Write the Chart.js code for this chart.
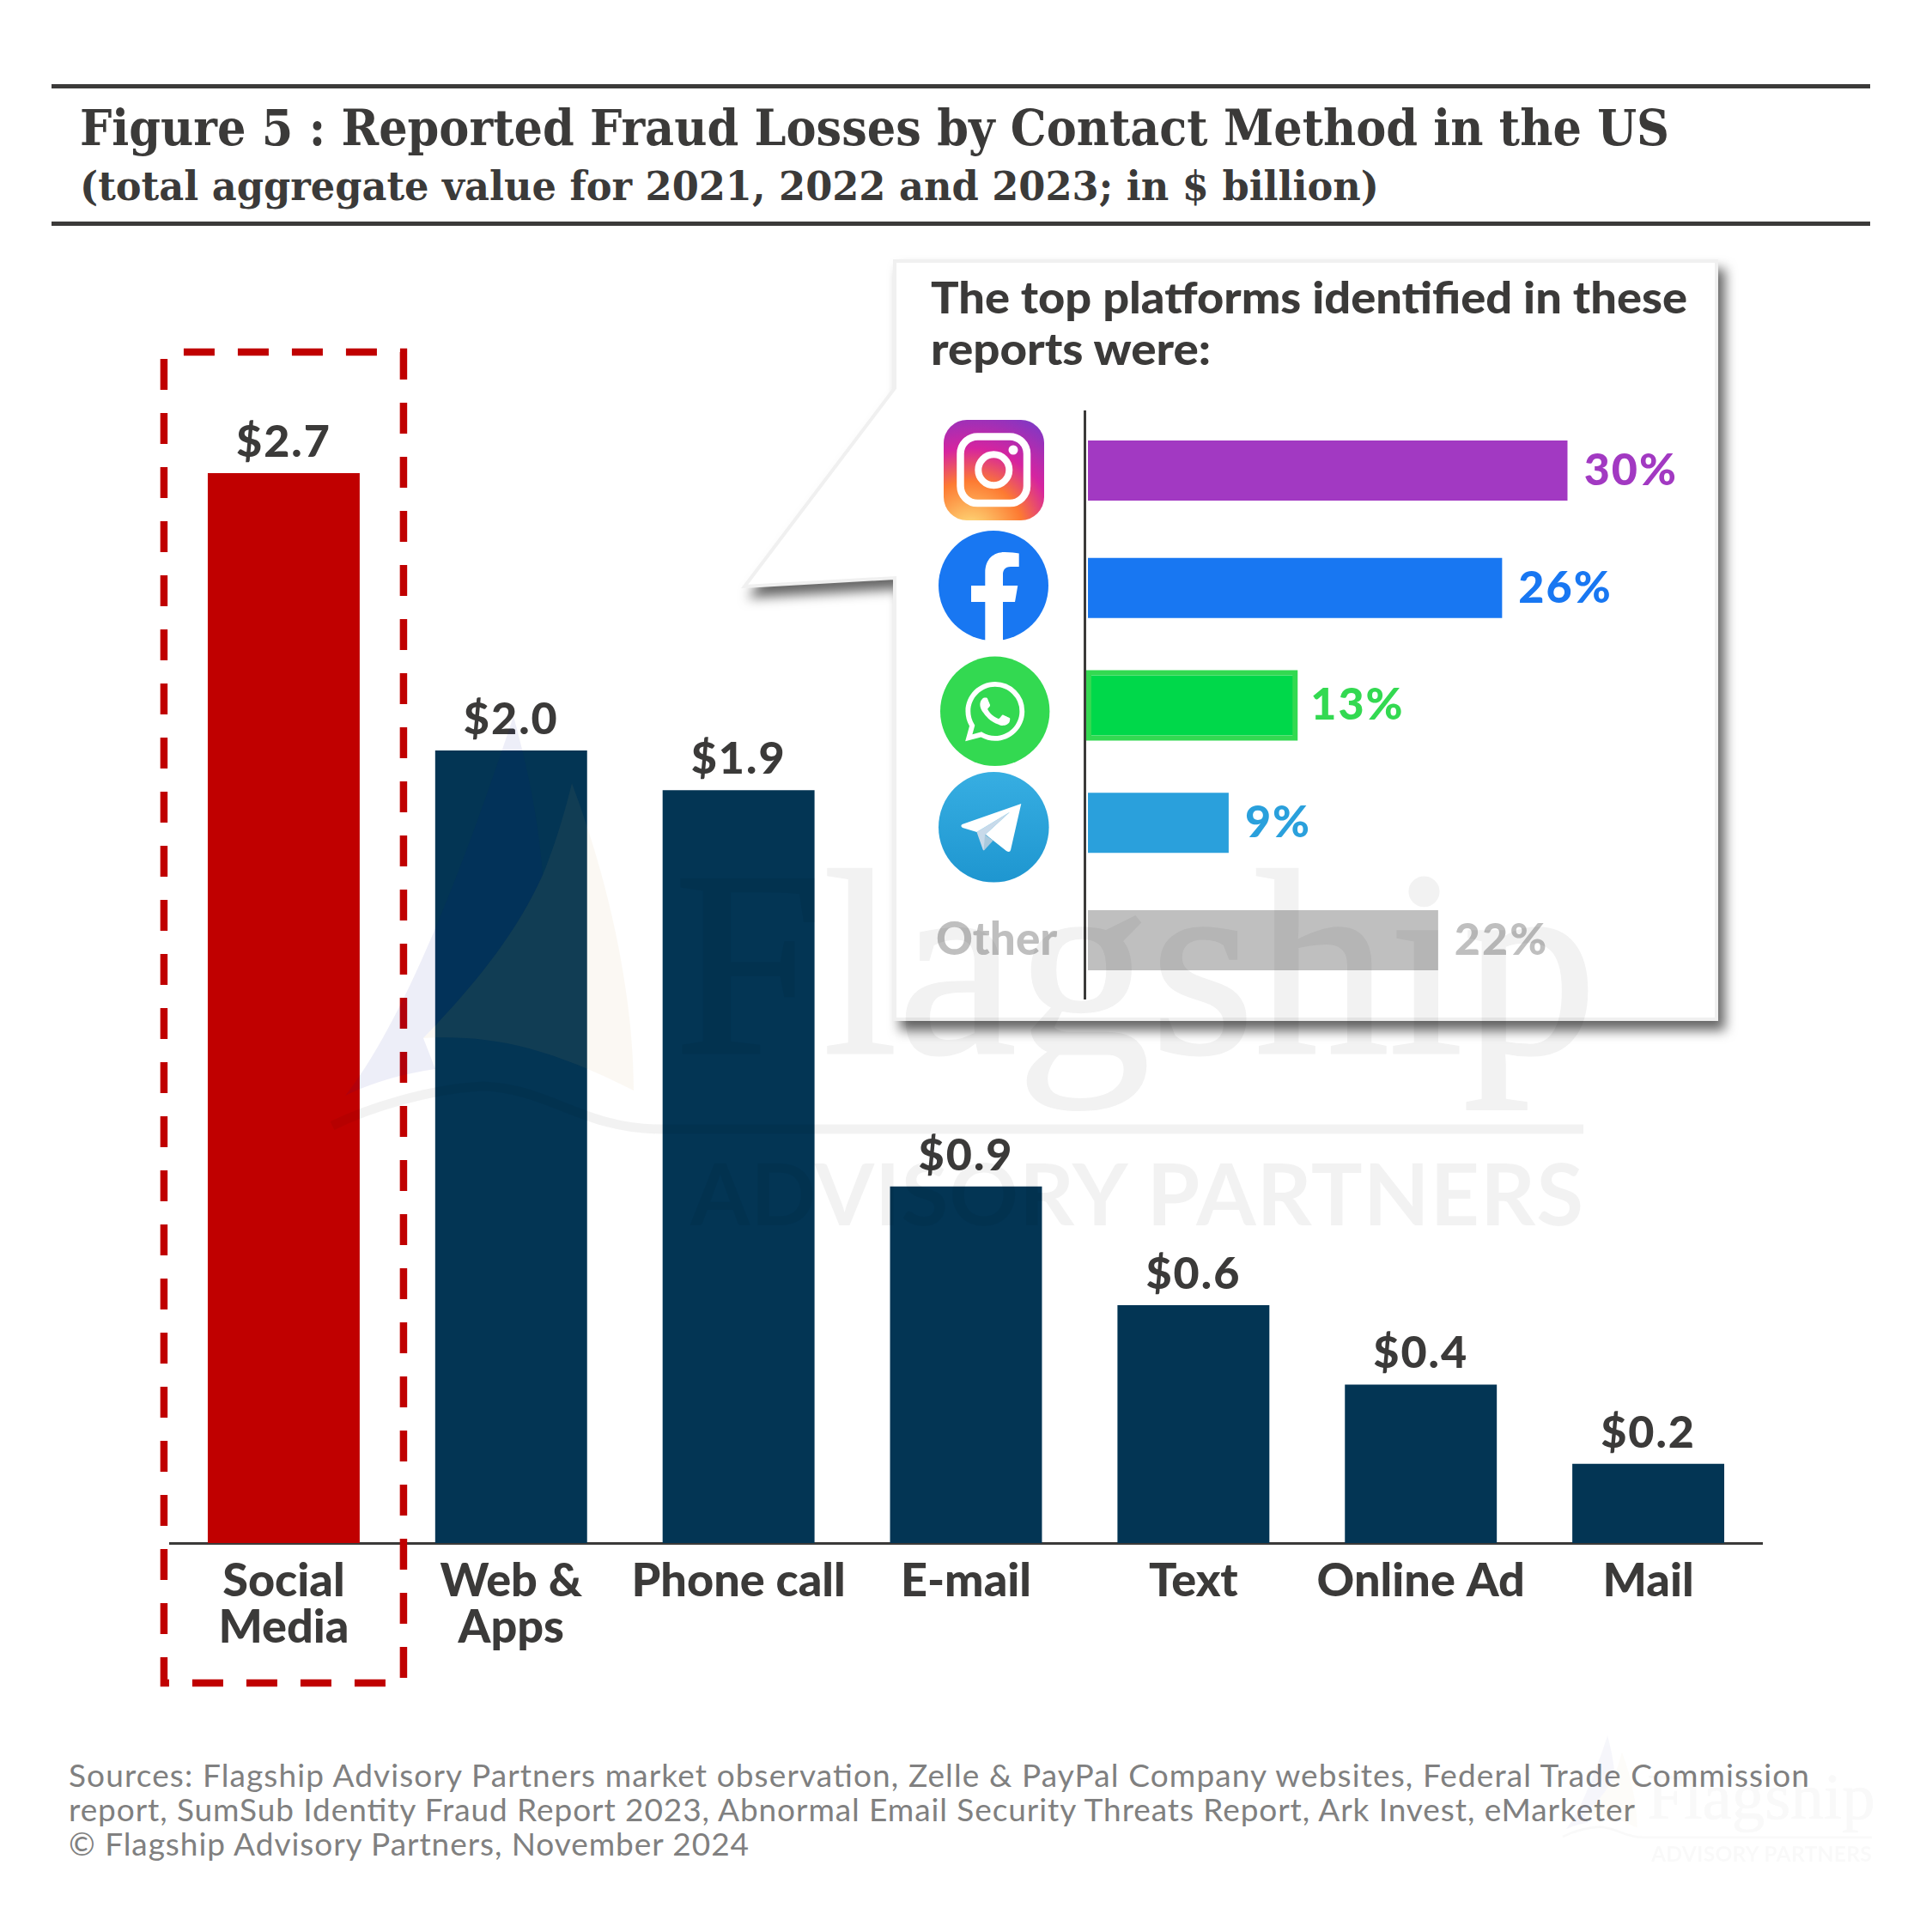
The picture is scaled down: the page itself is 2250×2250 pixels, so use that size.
<!DOCTYPE html>
<html>
<head>
<meta charset="utf-8">
<title>Reported Fraud Losses by Contact Method</title>
<script src="https://cdn.jsdelivr.net/npm/chart.js@4"></script>
<style>
    html, body { margin: 0; background: #fff; }
    #page { position: relative; width: 2250px; height: 2250px; overflow: hidden; }
    #page canvas, #page svg { position: absolute; left: 0; top: 0; }
    .head { font-family: "DejaVu Serif", serif; font-weight: 700; fill: #3b3a39; }
    .sans { font-family: Lato, sans-serif; }
    .foot { font-family: Lato, sans-serif; font-size: 37px; fill: #808080; }
</style>
</head>
<body>
<div id="page">
    <svg width="2250" height="2250" id="frame">
        <rect x="60" y="98" width="2118" height="5" fill="#3b3a39"/>
        <rect x="60" y="258" width="2118" height="5" fill="#3b3a39"/>
        <text class="head" x="93" y="169" font-size="57" textLength="1851" lengthAdjust="spacingAndGlyphs">Figure 5 : Reported Fraud Losses by Contact Method in the US</text>
        <text class="head" x="93" y="233" font-size="46" textLength="1513" lengthAdjust="spacingAndGlyphs">(total aggregate value for 2021, 2022 and 2023; in $ billion)</text>
        <text class="foot" x="80" y="2081" textLength="2027">Sources: Flagship Advisory Partners market observation, Zelle &amp; PayPal Company websites, Federal Trade Commission</text>
        <text class="foot" x="80" y="2121" textLength="1824">report, SumSub Identity Fraud Report 2023, Abnormal Email Security Threats Report, Ark Invest, eMarketer</text>
        <text class="foot" x="80" y="2161" textLength="792">© Flagship Advisory Partners, November 2024</text>
    </svg>
    <canvas id="lossChart" width="2250" height="2250"></canvas>
    <svg width="2250" height="2250" id="callout" style="overflow:visible">
        <path d="M1042 304 H1999 V1187 H1042 V673 L867 683 L1042 452 Z" fill="#fff" stroke="#f0f0f0" stroke-width="4"
              style="filter: drop-shadow(8px 11px 7px rgba(0,0,0,.6))"/>
    </svg>
    <canvas id="platformChart" width="2250" height="2250"></canvas>
    <svg width="2250" height="2250" id="icons">
        <defs>
            <radialGradient id="igGrad" gradientUnits="userSpaceOnUse" cx="1130" cy="622" r="172">
                <stop offset="0" stop-color="#fdf497"/>
                <stop offset="0.12" stop-color="#fdc468"/>
                <stop offset="0.36" stop-color="#fd7a32"/>
                <stop offset="0.58" stop-color="#d6249f"/>
                <stop offset="0.84" stop-color="#8a35c0"/>
                <stop offset="1" stop-color="#4f5fd0"/>
            </radialGradient>
            <linearGradient id="tgGrad" x1="0" y1="0" x2="0" y2="1">
                <stop offset="0" stop-color="#37aee2"/>
                <stop offset="1" stop-color="#1e96d0"/>
            </linearGradient>
        </defs>
        <rect x="1099" y="489" width="117" height="117" rx="27" fill="url(#igGrad)"/>
        <rect x="1118.5" y="508.5" width="77.5" height="77.5" rx="20" fill="none" stroke="#fff" stroke-width="8.5"/>
        <circle cx="1157.3" cy="547.3" r="18" fill="none" stroke="#fff" stroke-width="8"/>
        <circle cx="1180" cy="524" r="5.5" fill="#fff"/>

        <circle cx="1157" cy="682" r="64" fill="#1877f2"/>
        <path fill="#fff" d="M1147.3 746 V701 H1131 V682 H1147.3 V667 C1147.3 651 1157 643 1170 643 C1177 643 1183 644 1186.7 644.5 V660 H1177 C1170 660 1168 664.5 1168 669 V682 H1185.3 L1182 701 H1168 V746 Z"/>

        <circle cx="1158.7" cy="828.3" r="63.7" fill="#33d951"/>
        <path fill="#fff" transform="translate(1124,794) scale(2.89)" d="M17.472 14.382c-.297-.149-1.758-.867-2.03-.967-.273-.099-.471-.148-.67.15-.197.297-.767.966-.94 1.164-.173.199-.347.223-.644.075-.297-.15-1.255-.463-2.39-1.475-.883-.788-1.48-1.761-1.653-2.059-.173-.297-.018-.458.13-.606.134-.133.298-.347.446-.52.149-.174.198-.298.298-.497.099-.198.05-.371-.025-.52-.075-.149-.669-1.612-.916-2.207-.242-.579-.487-.5-.669-.51-.173-.008-.371-.01-.57-.01-.198 0-.52.074-.792.372-.272.297-1.04 1.016-1.04 2.479 0 1.462 1.065 2.875 1.213 3.074.149.198 2.096 3.2 5.077 4.487.709.306 1.262.489 1.694.625.712.227 1.36.195 1.871.118.571-.085 1.758-.719 2.006-1.413.248-.694.248-1.289.173-1.413-.074-.124-.272-.198-.57-.347m-5.421 7.403h-.004a9.87 9.87 0 01-5.031-1.378l-.361-.214-3.741.982.998-3.648-.235-.374a9.86 9.86 0 01-1.51-5.26c.001-5.45 4.436-9.884 9.888-9.884 2.64 0 5.122 1.03 6.988 2.898a9.825 9.825 0 012.893 6.994c-.003 5.45-4.437 9.884-9.885 9.884m8.413-18.297A11.815 11.815 0 0012.05 0C5.495 0 .16 5.335.157 11.892c0 2.096.547 4.142 1.588 5.945L.057 24l6.305-1.654a11.882 11.882 0 005.683 1.448h.005c6.554 0 11.89-5.335 11.893-11.893a11.821 11.821 0 00-3.48-8.413z"/>

        <circle cx="1157.3" cy="963.3" r="64.3" fill="url(#tgGrad)"/>
        <path fill="#c8daea" d="M1137.5 969 L1176 945.7 L1147.7 971.7 L1146.5 989 Q1145.5 991.5 1144.5 989 Z"/>
        <path fill="#a9c9dd" d="M1145.7 990.7 L1147 972 L1156.5 979 Z"/>
        <path fill="#fff" d="M1189.3 936 L1120.5 960 Q1118 962 1121 964 L1137.5 969 L1176 945.7 L1147.7 971.7 L1172 991 Q1176 993.5 1177 990 Z"/>

        <text class="sans" x="1084" y="365" font-size="52" font-weight="900" fill="#3b3a39" textLength="881" lengthAdjust="spacingAndGlyphs">The top platforms identified in these</text>
        <text class="sans" x="1084" y="425" font-size="52" font-weight="900" fill="#3b3a39" textLength="326" lengthAdjust="spacingAndGlyphs">reports were:</text>
    </svg>
    <svg width="2250" height="2250" id="watermark" style="pointer-events:none">
        <defs>
            <g id="wm">
                <path fill="rgba(5,20,150,.07)" d="M598 834 C612 885 627 950 632 1019 C600 1090 550 1150 493 1209 L507 1245 C470 1250 430 1262 402 1276 C470 1190 540 1010 598 834 Z"/>
                <path fill="rgba(203,159,97,.075)" d="M666 912 C650 978 632 1019 632 1019 C600 1090 550 1150 493 1209 C563 1205 630 1215 738 1270 C738 1167 713 1037 666 912 Z"/>
                <path fill="none" stroke="rgba(0,0,0,.05)" stroke-width="11" d="M387 1311 C430 1290 500 1268 563 1265 C640 1268 680 1315 770 1315 H1844"/>
                <text x="785" y="1226" font-family="Liberation Serif" font-size="308" fill="#000" stroke="#000" stroke-width="3" opacity="0.05" textLength="1075" lengthAdjust="spacingAndGlyphs">Flagship</text>
                <text x="804" y="1427" font-family="Lato" font-weight="700" font-size="100" fill="rgba(0,0,0,.05)" textLength="1040">ADVISORY PARTNERS</text>
            </g>
        </defs>
        <use href="#wm"/>
        <use href="#wm" transform="translate(1920,2118) scale(0.247) translate(-792,-1226)" opacity="0.5"/>
    </svg>
</div>

<script>
const categories = [['Social', 'Media'], ['Web &', 'Apps'], 'Phone call', 'E-mail', 'Text', 'Online Ad', 'Mail'];
const lossValues = [2.7, 2.0, 1.9, 0.9, 0.6, 0.4, 0.2];
const lossColors = ['#c00000', '#033554', '#033554', '#033554', '#033554', '#033554', '#033554'];

const platformNames = ['Instagram', 'Facebook', 'WhatsApp', 'Telegram', 'Other'];
const platformShares = [30, 25.9, 12.9, 8.8, 21.9];
const platformLabels = ['30%', '26%', '13%', '9%', '22%'];
const platformColors = ['#a239c2', '#1877f2', '#00d84a', '#2aa0dc', '#bfbfbf'];
const platformLabelColors = ['#a239c2', '#1877f2', '#33d951', '#2aa0dc', '#bfbfbf'];

const textColor = '#3b3a39';
const labelFont = '900 52px Lato';
const labelSpacing = '2px';

Chart.defaults.font.family = 'Lato';
Chart.defaults.animation = false;

// value labels over the bars + the dashed box around the first category
const lossOverlay = {
    id: 'lossOverlay',
    afterDatasetsDraw(chart) {
        const ctx = chart.ctx;
        ctx.save();
        ctx.font = labelFont;
        ctx.letterSpacing = labelSpacing;
        ctx.fillStyle = textColor;
        ctx.textAlign = 'center';
        chart.getDatasetMeta(0).data.forEach((bar, i) => {
            ctx.fillText('$' + lossValues[i].toFixed(1), bar.x, bar.y - 19);
        });

        const cx = chart.scales.x.getPixelForValue(0);
        ctx.strokeStyle = '#c00000';
        ctx.lineWidth = 8.5;
        ctx.setLineDash([36, 27]);
        ctx.lineDashOffset = 40;
        ctx.lineCap = 'butt';
        ctx.strokeRect(cx - 139.5, 410, 279, 1550);
        ctx.restore();
    }
};

new Chart(document.getElementById('lossChart'), {
    type: 'bar',
    data: {
        labels: categories,
        datasets: [{
            data: lossValues,
            backgroundColor: lossColors,
            barPercentage: 0.668,
            categoryPercentage: 1
        }]
    },
    options: {
        responsive: false,
        devicePixelRatio: 1,
        layout: { padding: { left: 198, right: 198, top: 412.5, bottom: 0 } },
        plugins: { legend: { display: false }, tooltip: { enabled: false } },
        scales: {
            y: { display: false, min: 0, max: 3 },
            x: {
                afterFit(scale) { scale.height = 453; },
                grid: { display: false, drawTicks: false },
                border: { display: true, color: textColor, width: 3 },
                ticks: {
                    color: textColor,
                    font: { size: 54, weight: 900, lineHeight: 1 },
                    padding: 18,
                    maxRotation: 0,
                    autoSkip: false
                }
            }
        }
    },
    plugins: [lossOverlay]
});

// percent labels, and the outlined WhatsApp bar
const platformOverlay = {
    id: 'platformOverlay',
    afterDatasetsDraw(chart) {
        const ctx = chart.ctx;
        const bars = chart.getDatasetMeta(0).data;
        ctx.save();
        const wa = bars[platformNames.indexOf('WhatsApp')];
        ctx.strokeStyle = platformLabelColors[2];
        ctx.lineWidth = 6;
        ctx.strokeRect(wa.base + 1, wa.y - 38, wa.x - wa.base, 76);

        ctx.font = labelFont;
        ctx.letterSpacing = labelSpacing;
        ctx.textBaseline = 'middle';
        bars.forEach((bar, i) => {
            ctx.fillStyle = platformLabelColors[i];
            ctx.fillText(platformLabels[i], bar.x + 19, bar.y);
        });
        ctx.restore();
    }
};

new Chart(document.getElementById('platformChart'), {
    type: 'bar',
    data: {
        labels: platformNames,
        datasets: [{
            data: platformShares,
            backgroundColor: platformColors,
            barPercentage: 0.512,
            categoryPercentage: 1
        }]
    },
    options: {
        indexAxis: 'y',
        responsive: false,
        devicePixelRatio: 1,
        layout: { padding: { left: 1090, right: 424.3, top: 479.6, bottom: 1086.6 } },
        plugins: { legend: { display: false }, tooltip: { enabled: false } },
        scales: {
            x: { display: false, min: -0.2, max: 30 },
            y: {
                afterFit(scale) { scale.width = 173.3; },
                grid: { display: false, drawTicks: false },
                border: { display: true, color: textColor, width: 3 },
                ticks: {
                    color: '#bfbfbf',
                    font: { size: 53, weight: 900 },
                    padding: 32,
                    callback(value, index) {
                        return platformNames[index] === 'Other' ? 'Other' : '';
                    }
                }
            }
        }
    },
    plugins: [platformOverlay]
});
</script>
</body>
</html>
